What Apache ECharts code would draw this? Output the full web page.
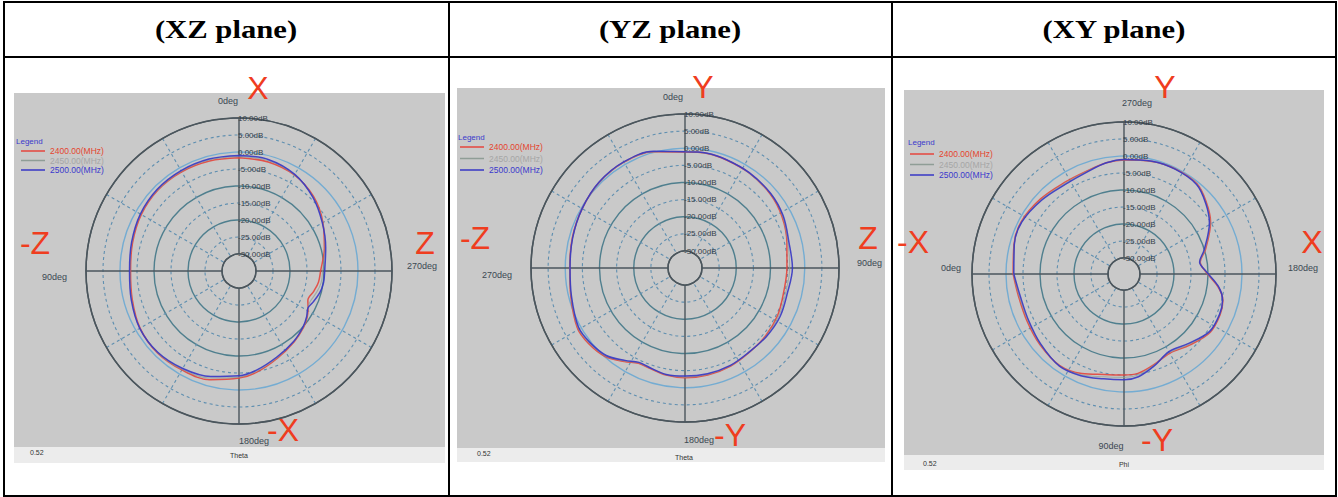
<!DOCTYPE html>
<html><head><meta charset="utf-8">
<script src="https://cdn.jsdelivr.net/npm/echarts@6/dist/echarts.min.js"></script>
<style>
html,body{margin:0;padding:0;background:#fff;}
#wrap{position:relative;width:1338px;height:497px;overflow:hidden;background:#fff;}
.bx{position:absolute;box-sizing:border-box;}
#chart{position:absolute;left:0;top:0;width:1338px;height:497px;}
</style></head><body>
<div id="wrap">
 <div class="bx" style="left:14px;top:93px;width:431px;height:354px;background:#c9c9c9"></div>
 <div class="bx" style="left:14px;top:447px;width:431px;height:16px;background:#ececec"></div>
 <div class="bx" style="left:457px;top:88px;width:428px;height:360px;background:#c9c9c9"></div>
 <div class="bx" style="left:457px;top:448px;width:428px;height:14px;background:#ececec"></div>
 <div class="bx" style="left:904px;top:90px;width:420px;height:365px;background:#c9c9c9"></div>
 <div class="bx" style="left:904px;top:455px;width:420px;height:15px;background:#ececec"></div>
 <div class="bx" style="left:3px;top:1px;width:1334px;height:496px;border:2px solid #000"></div>
 <div class="bx" style="left:3px;top:56px;width:1334px;height:2px;background:#000"></div>
 <div class="bx" style="left:448px;top:1px;width:2px;height:496px;background:#000"></div>
 <div class="bx" style="left:891px;top:1px;width:2px;height:496px;background:#000"></div>
 <div id="chart"></div>
</div>
<script>
// ---------------- data ----------------
const planeTitles = ['(XZ plane)', '(YZ plane)', '(XY plane)'];
const freqNames = ['2400.00(MHz)', '2450.00(MHz)', '2500.00(MHz)'];
const sweepNames = ['Theta', 'Theta', 'Phi'];
const footValue = '0.52';
const axisLetters = [
  ['X', '-Z', 'Z', '-X'],
  ['Y', '-Z', 'Z', '-Y'],
  ['Y', '-X', 'X', '-Y']
];
const dbMin = -30, dbMax = 10, dbStep = 5;

// XZ plane (Theta, 0 at top, counter-clockwise)
const xzAngles = [0,15,30,45,60,75,90,105,120,135,150,165,180,190,204,218,229,236,242,247,255,262,270,285,300,315,330,345];
const xz2400 = [-1.7,-1.5,-1.3,-1.3,-1.8,-2.6,-3.1,-2.5,-1.4,-1.0,-1.4,-1.9,-3.5,-4.8,-7.0,-8.6,-9.8,-10.8,-12.0,-13.0,-12.2,-11.4,-11.0,-9.0,-6.5,-4.0,-2.4,-1.8];
const xz2450 = [-1.3,-1.2,-1.1,-1.2,-1.6,-2.4,-2.9,-2.3,-1.3,-1.1,-1.6,-2.4,-3.8,-5.1,-7.2,-8.7,-9.9,-10.9,-12.1,-12.2,-11.3,-10.6,-10.4,-8.8,-6.6,-4.2,-2.3,-1.4];
const xz2500 = [-1.0,-0.9,-0.9,-1.0,-1.5,-2.3,-2.8,-2.2,-1.3,-1.2,-1.9,-2.9,-4.2,-5.4,-7.4,-8.8,-10.0,-11.0,-12.0,-11.4,-10.4,-9.9,-9.8,-8.6,-6.7,-4.3,-2.2,-1.1];

// YZ plane (Theta, 0 at top, clockwise)
const yzAngles = [0,11,21,34,49,62,76,90,104,117,130,143,155,168,180,190,199,206,213,222,232,241,256,270,285,300,315,330,345];
const yz2400 = [-1.1,-0.9,-1.2,-1.5,-2.0,-2.9,-4.3,-5.2,-5.3,-4.6,-4.2,-4.0,-3.4,-3.0,-2.9,-3.2,-3.9,-4.0,-2.4,-0.2,0.8,1.0,-0.6,-1.3,-0.9,-0.3,0.4,0.7,0.2];
const yz2450 = [-1.0,-0.9,-1.1,-1.5,-1.9,-2.7,-4.0,-4.4,-4.7,-4.2,-4.0,-4.0,-3.5,-3.2,-3.1,-3.3,-4.0,-4.2,-2.6,-0.4,0.5,0.8,-0.7,-1.3,-1.0,-0.3,0.4,0.7,0.2];
const yz2500 = [-1.0,-0.8,-1.1,-1.4,-1.8,-2.5,-3.7,-3.6,-4.2,-3.8,-3.9,-4.1,-3.6,-3.4,-3.4,-3.4,-4.1,-4.3,-2.8,-0.6,0.3,0.6,-0.8,-1.4,-1.0,-0.3,0.5,0.8,0.3];

// XY plane (Phi, 270 at top, 0 at left, counter-clockwise)
const xyAngles = [0,12,26,40,55,67,79,90,98,108,120,133,146,157,165,172,182,189,197,211,221,231,244,256,270,279,290,303,318,333,345];
const xy2400 = [-2.1,-3.0,-3.0,-2.4,-1.8,-2.9,-4.6,-5.0,-5.2,-6.6,-7.8,-6.2,-4.1,-4.0,-4.6,-6.7,-10.8,-12.0,-9.6,-5.0,-2.6,-0.6,-0.3,-0.6,-1.2,-1.6,-2.5,-2.6,-1.7,-0.8,-1.2];
const xy2450 = [-2.2,-3.2,-3.3,-2.6,-1.7,-2.5,-3.9,-4.3,-4.7,-6.4,-8.0,-6.5,-4.3,-4.1,-4.7,-6.6,-10.7,-12.1,-9.8,-5.2,-2.8,-0.7,-0.4,-0.6,-1.1,-1.6,-2.6,-2.9,-2.0,-0.9,-1.3];
const xy2500 = [-2.3,-3.5,-3.5,-2.7,-1.6,-2.2,-3.3,-3.6,-4.2,-6.2,-8.3,-6.8,-4.4,-4.2,-4.7,-6.5,-10.6,-12.2,-10.0,-5.4,-2.9,-0.8,-0.4,-0.5,-1.0,-1.6,-2.8,-3.2,-2.2,-1.0,-1.3];

// ---------------- layout & style ----------------
const C_AXIS = '#4b565d', C_RING = '#4f7f8e', C_ZERO = '#74acd2', C_DASH = '#5f8fb0';
const C_LABEL = '#3b4852';
const lineColors = ['#e4453c', '#8f9d96', '#3636c4'];
const legendTextColors = ['#e4452e', '#a6a6a6', '#3a3acc'];
const SANS = 'Liberation Sans', SERIF = 'Liberation Serif';

const panels = [
  { center: [239, 271], R: 153, r0: 17, clockwise: false, min: 0, max: 360,
    angles: xzAngles, series: [xz2400, xz2450, xz2500],
    pads: {0: [0, 22, 6.5, 0], 90: [12, 11, 0, 0], 180: [6.5, 0, 0, 30], 270: [0, 0, 10, 7]},
    colX: 226, legendLeft: 21, legendTop: 146.5, legendGap: 0.5, legendWordX: 16, legendWordY: 141,
    letters: [[258, 88], [35, 243], [425, 243], [283, 430]],
    footL: [30, 452], footC: [239, 455] },
  { center: [685, 268], R: 154, r0: 17, clockwise: true, min: 0, max: 360,
    angles: yzAngles, series: [yz2400, yz2450, yz2500],
    pads: {0: [0, 24, 7.5, 0], 90: [0, 0, 10, 10], 180: [8.5, 0, 0, 28], 270: [14, 11, 0, 0]},
    colX: 670, legendLeft: 460, legendTop: 142.5, legendGap: 2.5, legendWordX: 458, legendWordY: 137,
    letters: [[703, 87], [475, 238], [868, 238], [730, 435]],
    footL: [477, 453], footC: [684, 457] },
  { center: [1124, 274], R: 152, r0: 16, clockwise: false, min: 270, max: 630,
    angles: xyAngles, series: [xy2400, xy2450, xy2500],
    pads: {270: [0, 0, 11.5, 26], 0: [0, 3, 12, 0], 180: [0, 0, 12, 4], 90: [12.5, 26, 0, 0]},
    colX: 1114, legendLeft: 910, legendTop: 149.5, legendGap: 1.5, legendWordX: 908, legendWordY: 142,
    letters: [[1165, 87], [913, 242], [1312, 242], [1157, 440]],
    footL: [923, 463], footC: [1124, 464] }
];

const polar = [], angleAxis = [], radiusAxis = [], series = [], legend = [], elements = [];

panels.forEach((p, i) => {
  polar.push({ center: p.center, radius: [p.r0, p.R] });
  const rich = {};
  Object.keys(p.pads).forEach(k => {
    rich['a' + k] = { padding: p.pads[k], fontSize: 9, lineHeight: 11, color: C_LABEL, fontFamily: SANS };
  });
  angleAxis.push({
    polarIndex: i, type: 'value', min: p.min, max: p.max, interval: 90,
    startAngle: 90, clockwise: p.clockwise,
    axisLine: { show: true, lineStyle: { color: C_AXIS, width: 1.5 } },
    axisTick: { show: false },
    axisLabel: { margin: 8, fontSize: 9, color: C_LABEL, fontFamily: SANS, rich,
      formatter: v => { const a = ((v % 360) + 360) % 360; return '{a' + a + '|' + a + 'deg}'; } },
    splitLine: { show: true, lineStyle: { color: C_AXIS, width: 1.4 } },
    minorTick: { show: false, splitNumber: 3 },
    minorSplitLine: { show: true, lineStyle: { color: C_DASH, width: 1.1, type: [3, 3] } }
  });
  radiusAxis.push({
    polarIndex: i, type: 'value', min: dbMin, max: dbMax, interval: dbStep,
    axisLine: { show: false }, axisTick: { show: false },
    axisLabel: { show: true, margin: 1, align: 'left', fontSize: 8, color: '#34404a', fontFamily: SANS,
      formatter: v => v.toFixed(2) + 'dB' },
    splitLine: { show: true, lineStyle: { width: 1.4,
      color: [C_AXIS, 'rgba(0,0,0,0)', C_RING, 'rgba(0,0,0,0)', C_RING, 'rgba(0,0,0,0)', C_ZERO, 'rgba(0,0,0,0)', C_AXIS] } }
  });
  const mapA = a => (a < p.min ? a + 360 : a);
  p.series.forEach((vals, k) => {
    const data = p.angles.map((a, j) => [vals[j], mapA(p.angles[j])]);
    data.push(data[0].slice());
    series.push({
      type: 'line', coordinateSystem: 'polar', polarIndex: i, name: freqNames[k],
      data, showSymbol: false, symbol: 'none', smooth: 0.35, silent: true,
      lineStyle: { color: lineColors[k], width: k === 1 ? 1.1 : 1.5, opacity: k === 1 ? 0.7 : 0.9 },
      itemStyle: { color: lineColors[k] }, z: 2 + k
    });
  });
  legend.push({
    left: p.legendLeft, top: p.legendTop, orient: 'vertical', padding: 0,
    itemGap: p.legendGap, itemWidth: 24, itemHeight: 1.5, icon: 'rect', selectedMode: false,
    textStyle: { fontSize: 8.5, lineHeight: 9, fontFamily: SANS },
    data: freqNames.map((n, k) => ({ name: n, textStyle: { color: legendTextColors[k] } }))
  });
  elements.push({ type: 'text', x: p.colX, y: 29, scaleX: 1.18, z: 100,
    style: { text: planeTitles[i], fill: '#000', fontSize: 26, fontWeight: 'bold', fontFamily: SERIF,
      align: 'center', verticalAlign: 'middle' } });
  p.letters.forEach((pos, k) => {
    elements.push({ type: 'text', x: pos[0], y: pos[1], z: 100,
      style: { text: axisLetters[i][k], fill: '#ef3d1f', fontSize: 32, fontFamily: SANS,
        align: 'center', verticalAlign: 'middle' } });
  });
  elements.push({ type: 'text', x: p.legendWordX, y: p.legendWordY, z: 100,
    style: { text: 'Legend', fill: '#3a3acc', fontSize: 8, fontFamily: SANS, align: 'left', verticalAlign: 'middle' } });
  elements.push({ type: 'text', x: p.footL[0], y: p.footL[1], z: 100,
    style: { text: footValue, fill: '#333', fontSize: 7, fontFamily: SANS, align: 'left', verticalAlign: 'middle' } });
  elements.push({ type: 'text', x: p.footC[0], y: p.footC[1], z: 100,
    style: { text: sweepNames[i], fill: '#333', fontSize: 7, fontFamily: SANS, align: 'center', verticalAlign: 'middle' } });
});

// dashed (odd 5 dB) rings on overlay polars
panels.forEach((p, i) => {
  const idx = panels.length + i;
  polar.push({ center: p.center, radius: [p.r0, p.R] });
  angleAxis.push({ polarIndex: idx, type: 'value', min: 0, max: 360, show: false });
  radiusAxis.push({
    polarIndex: idx, type: 'value', min: dbMin, max: dbMax, interval: 10,
    axisLine: { show: false }, axisTick: { show: false }, axisLabel: { show: false },
    splitLine: { show: false },
    minorTick: { show: false, splitNumber: 2 },
    minorSplitLine: { show: true, lineStyle: { color: C_DASH, width: 1.1, type: [3, 3] } }
  });
});

const chart = echarts.init(document.getElementById('chart'), null, { renderer: 'svg' });
chart.setOption({
  animation: false,
  backgroundColor: 'transparent',
  polar, angleAxis, radiusAxis, series, legend,
  graphic: { elements }
});
</script>
</body></html>
